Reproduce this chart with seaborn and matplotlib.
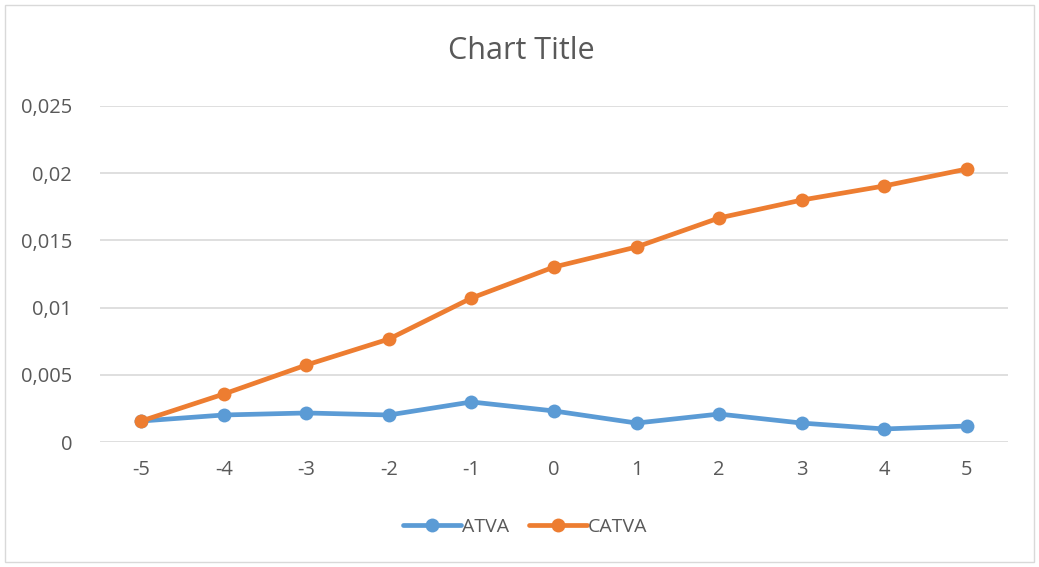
import matplotlib
matplotlib.use("Agg")
import matplotlib.pyplot as plt
from matplotlib.lines import Line2D
import pandas as pd
import seaborn as sns

# values
periods = [-5, -4, -3, -2, -1, 0, 1, 2, 3, 4, 5]
atva = [0.00156, 0.00201, 0.00216, 0.00201, 0.00298, 0.00231,
        0.00141, 0.00208, 0.00141, 0.00097, 0.00119]
catva = [0.00156, 0.00357, 0.00573, 0.00766, 0.01071, 0.01302,
         0.01451, 0.01667, 0.01800, 0.01905, 0.02031]
y_ticks = [0, 0.005, 0.01, 0.015, 0.02, 0.025]
y_tick_labels = ["0", "0,005", "0,01", "0,015", "0,02", "0,025"]

df = pd.DataFrame({
    "pos": list(range(len(periods))) * 2,
    "value": atva + catva,
    "series": ["ATVA"] * len(periods) + ["CATVA"] * len(periods),
})
colors = {"ATVA": "#5B9BD5", "CATVA": "#ED7D31"}

sns.set_style("white")
plt.rcParams["font.family"] = ["Open Sans", "DejaVu Sans"]
text_color = "#595959"

fig = plt.figure(figsize=(10.39, 5.67), dpi=100)
ax = fig.add_axes([100 / 1039, 1 - 442 / 567, 908 / 1039, 336 / 567])

sns.lineplot(
    data=df, x="pos", y="value", hue="series", palette=colors,
    marker="o", markersize=10, markeredgewidth=0,
    linewidth=3.4, ax=ax, legend=False,
)

ax.set_xlim(-0.5, len(periods) - 0.5)
ax.set_ylim(0, 0.025)
ax.set_xticks(range(len(periods)))
ax.set_xticklabels([str(p) for p in periods])
ax.set_yticks(y_ticks)
ax.set_yticklabels(y_tick_labels)
ax.tick_params(axis="both", length=0, labelsize=14.5, colors=text_color)
ax.tick_params(axis="x", pad=13)
ax.tick_params(axis="y", pad=20)
ax.yaxis.grid(True, color="#d9d9d9", linewidth=1.2)
ax.set_axisbelow(True)
for s in ax.spines.values():
    s.set_visible(False)
ax.set_xlabel("")
ax.set_ylabel("")

fig.text(521 / 1039, 1 - 51 / 567, "Chart Title", ha="center", va="center",
         fontsize=22, color=text_color)

# legend
handles = [
    Line2D([0], [0], color=colors[k], lw=3.4, marker="o", markersize=10, markeredgewidth=0)
    for k in ["ATVA", "CATVA"]
]
fig.legend(handles, ["ATVA", "CATVA"], loc="center", bbox_to_anchor=(525 / 1039, 1 - 527 / 567),
           ncol=2, frameon=False, fontsize=14, labelcolor=text_color,
           handlelength=3.0, handletextpad=0.05, columnspacing=1.0)

# outer chart border
fig.patches.append(plt.Rectangle((5 / 1039, 5 / 567), 1029 / 1039, 557 / 567,
                                 transform=fig.transFigure, fill=False,
                                 edgecolor="#d9d9d9", linewidth=1))

fig.savefig("out.png", dpi=100)
